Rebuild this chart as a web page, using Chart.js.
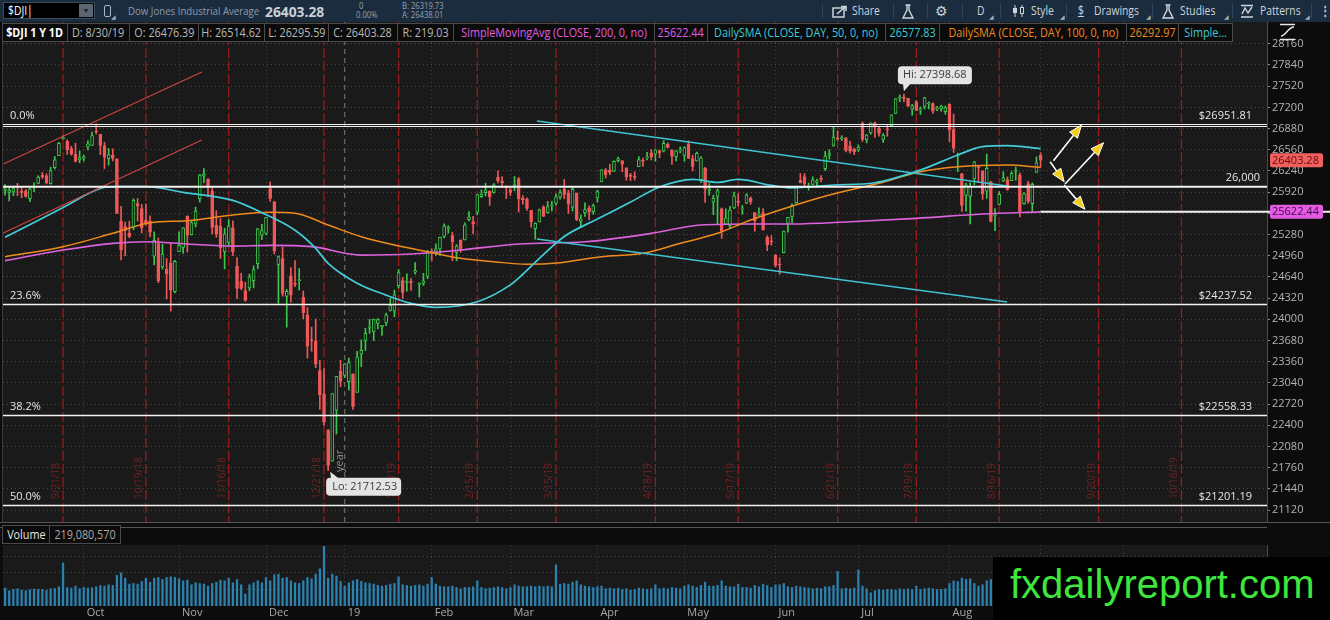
<!DOCTYPE html>
<html>
<head>
<meta charset="utf-8">
<title>$DJI 1 Y 1D</title>
<script src="https://cdn.jsdelivr.net/npm/chart.js@4.4.1/dist/chart.umd.min.js"></script>
<style>
  body { margin: 0; background: #000; }
  #page { position: relative; width: 1330px; height: 620px; overflow: hidden; background: #000; font-family: 'Open Sans', Roboto, sans-serif; }
  canvas { position: absolute; left: 0; }
  #toolbar { position: absolute; left: 0; top: 0; width: 1330px; height: 22px; background: #1b2c3e; color: #cdd5dc; font-size: 12px; z-index: 3; }
  .t { position: absolute; top: 0; height: 22px; line-height: 22px; white-space: nowrap; transform: scaleX(0.86); transform-origin: left center; }
  .tiny { position: absolute; font-size: 8.5px; line-height: 10px; color: #93a3b3; white-space: nowrap; transform: scaleX(0.9); transform-origin: left center; }
  .ico { position: absolute; top: 4px; }
  .sep { position: absolute; top: 4px; width: 1px; height: 14px; background: #30445a; }
  .corner { position: absolute; top: 13px; font-size: 6px; color: #9fb0c0; }
  #sym { position: absolute; left: 3px; top: 2px; width: 92px; height: 17px; background: #000; border: 1px solid #3b4d60; box-sizing: border-box; }
  #dd { position: absolute; right: 1px; top: 1px; width: 14px; height: 13px; background: #5b6670; color: #1b2430; font-size: 7px; line-height: 13px; text-align: center; }
  #legend { position: absolute; left: 2px; top: 23px; height: 19px; display: flex; z-index: 3; }
  #legend div { height: 19px; box-sizing: border-box; background: #0b0b0b; border: 1px solid #4a4a4a; border-left: none; display: flex; justify-content: center; align-items: center; overflow: visible; font-size: 12px; white-space: nowrap; }
  #legend div:first-child { border-left: 1px solid #4a4a4a; }
  #legend span { display: inline-block; transform: scaleX(0.9); }
  #volLegend { position: absolute; left: 2px; top: 525px; height: 19px; display: flex; z-index: 3; }
  #volLegend div { height: 19px; box-sizing: border-box; background: #0b0b0b; border: 1px solid #4a4a4a; display: flex; justify-content: center; align-items: center; font-size: 12px; white-space: nowrap; }
  #volLegend span { display: inline-block; transform: scaleX(0.9); }
  #mark { position: absolute; left: 993px; top: 557px; width: 337px; height: 63px; background: #000; z-index: 4; }
  #mark span { position: absolute; left: 17px; top: 4px; font-family: 'Liberation Sans', Arial, sans-serif; font-size: 40px; line-height: 46px; color: #3ee63e; white-space: nowrap; }
</style>
</head>
<body>
<div id="page">
  <div id="toolbar">
    <div id="sym"><span class="t" style="left:4px;top:-3px;color:#fff">$DJI<span style="color:#fff">|</span></span><div id="dd">&#9660;</div></div>
    <div style="position:absolute;left:104px;top:5px;width:5px;height:10px;border:1px solid #aab6c2;border-radius:2px"></div>
    <span class="corner" style="left:111px">&#9698;</span>
    <span class="t" style="left:128px;color:#8d9cab;font-size:11.5px;transform:scaleX(0.84)">Dow Jones Industrial Average</span>
    <span class="t" style="left:265px;font-weight:bold;font-size:15px;color:#c9d0d7;transform:scaleX(0.92)">26403.28</span>
    <span class="tiny" style="left:359px;top:1px">0</span>
    <span class="tiny" style="left:356px;top:10px">0.00%</span>
    <span class="tiny" style="left:402px;top:1px">B: 26319.73</span>
    <span class="tiny" style="left:402px;top:10px">A: 26438.01</span>

    <div class="sep" style="left:822px"></div>
    <svg class="ico" style="left:832px" width="17" height="14"><rect x="1" y="4" width="11" height="9" fill="none" stroke="#cdd5dc" stroke-width="1.5"/><path d="M5 10 L13 3 M9 2.5 H14 V7" fill="none" stroke="#cdd5dc" stroke-width="1.6"/></svg>
    <span class="t" style="left:852px">Share</span>
    <div class="sep" style="left:893px"></div>
    <svg class="ico" style="left:902px" width="12" height="15"><path d="M3.5 1 H8.5 M5 1 V6 L1 14 H11 L7 6 V1" fill="none" stroke="#cdd5dc" stroke-width="1.4"/></svg>
    <div class="sep" style="left:927px"></div>
    <span class="t" style="left:935px;font-family:'DejaVu Sans';font-size:14px;transform:none">&#9881;</span>
    <div class="sep" style="left:962px"></div>
    <span class="t" style="left:977px">D</span>
    <span class="corner" style="left:989px">&#9698;</span>
    <div class="sep" style="left:1000px"></div>
    <svg class="ico" style="left:1012px" width="14" height="14"><path d="M3 1 V13 M10 1 V13" stroke="#cdd5dc" stroke-width="1"/><rect x="1" y="4" width="4" height="5" fill="#cdd5dc"/><rect x="8.5" y="3.5" width="3" height="6" fill="#1b2c3e" stroke="#cdd5dc"/></svg>
    <span class="t" style="left:1031px">Style</span>
    <span class="corner" style="left:1060px">&#9698;</span>
    <div class="sep" style="left:1066px"></div>
    <span class="t" style="left:1078px;text-decoration:underline">$</span>
    <span class="t" style="left:1094px">Drawings</span>
    <span class="corner" style="left:1146px">&#9698;</span>
    <div class="sep" style="left:1152px"></div>
    <svg class="ico" style="left:1162px" width="12" height="15"><path d="M3.5 1 H8.5 M5 1 V6 L1 14 H11 L7 6 V1" fill="none" stroke="#cdd5dc" stroke-width="1.4"/></svg>
    <span class="t" style="left:1180px">Studies</span>
    <span class="corner" style="left:1224px">&#9698;</span>
    <div class="sep" style="left:1232px"></div>
    <svg class="ico" style="left:1240px" width="14" height="14"><path d="M1 1.5 H13 M1 13 H13 M2 10 L5 4 L8 9 L12 3" fill="none" stroke="#cdd5dc" stroke-width="1.4"/></svg>
    <span class="t" style="left:1260px">Patterns</span>
    <span class="corner" style="left:1305px">&#9698;</span>
    <div class="sep" style="left:1311px"></div>
    <span class="t" style="left:1320px;font-weight:bold">&#8942;</span>
  </div>

  <canvas id="price" width="1330" height="502" style="top:22px"></canvas>
  <canvas id="volume" width="1330" height="96" style="top:524px"></canvas>

  <div id="legend">
    <div style="width:66px;color:#fff;font-weight:bold"><span>$DJI 1 Y 1D</span></div>
    <div style="width:62px;color:#b9b9b9"><span>D: 8/30/19</span></div>
    <div style="width:69px;color:#b9b9b9"><span>O: 26476.39</span></div>
    <div style="width:66px;color:#b9b9b9"><span>H: 26514.62</span></div>
    <div style="width:64px;color:#b9b9b9"><span>L: 26295.59</span></div>
    <div style="width:69px;color:#b9b9b9"><span>C: 26403.28</span></div>
    <div style="width:56px;color:#b9b9b9"><span>R: 219.03</span></div>
    <div style="width:201px;color:#e05ee0"><span>SimpleMovingAvg (CLOSE, 200, 0, no)</span></div>
    <div style="width:53px;color:#e05ee0"><span>25622.44</span></div>
    <div style="width:178px;color:#3fcad8"><span>DailySMA (CLOSE, DAY, 50, 0, no)</span></div>
    <div style="width:54px;color:#3fcad8"><span>26577.83</span></div>
    <div style="width:187px;color:#ee8a1e"><span>DailySMA (CLOSE, DAY, 100, 0, no)</span></div>
    <div style="width:52px;color:#ee8a1e"><span>26292.97</span></div>
    <div style="width:54px;color:#3fcad8"><span>Simple...</span></div>
  </div>
  <svg style="position:absolute;left:1278px;top:23px;z-index:3" width="20" height="18"><path d="M2 1.5 H17 M2 16.5 H17 M3 13 C8 13 10 4 16 4" fill="none" stroke="#e8e8e8" stroke-width="1.4"/></svg>

  <div id="volLegend">
    <div style="width:48px;color:#e4e4e4"><span>Volume</span></div>
    <div style="width:71px;color:#a9a9a9;border-left:none"><span>219,080,570</span></div>
  </div>

  <div id="mark"><span>fxdailyreport.com</span></div>
</div>

<script>
// daily candles, Aug 31 2018 .. Aug 30 2019 (x = trading-day index)
const opens = [
  25946,25917,25924,25997,25927,25936,25822,25990,26052,26175,
  26168,26046,26290,26470,26723,26689,26579,26496,26408,26430,
  26598,26625,26834,26791,26618,26424,26479,26422,25484,25401,
  25300,25387,25747,25670,25493,25486,24953,25144,24792,24753,
  24845,24416,25022,25085,25556,25278,25441,25820,26162,26121,
  25933,25420,25409,25020,25161,25382,24803,24577,24434,24473,
  24584,24838,25269,25296,25975,25772,24822,24916,24345,24656,
  24534,24584,24330,24068,23684,23675,23225,22871,22318,21858,
  22629,23213,23153,23058,23177,22894,23474,23681,23865,23811,
  23939,23880,23944,24132,24125,24507,24585,24557,24557,24712,
  24527,24541,24646,25031,25025,25062,25253,25371,25265,25011,
  25191,25199,25504,25470,25616,25850,25911,25936,25916,26146,
  26082,25996,25956,26020,26122,25830,25812,25645,25368,25469,
  25697,25608,25710,25751,25844,25962,25904,25688,25907,25477,
  25605,25676,25625,25834,26076,26252,26249,26236,26396,26392,
  26286,26179,26161,26304,26397,26437,26510,26492,26547,26539,
  26640,26556,26450,26543,26475,26640,26426,26390,26108,26283,
  25945,25769,25854,25666,25437,25408,25680,25780,25667,25755,
  25826,25613,25573,25611,25237,25186,24975,24830,25004,25448,
  25545,25762,26097,26153,26005,26036,26065,26115,26275,26475,
  26624,26740,26728,26738,26620,26566,26553,26964,26714,26813,
  26968,26885,26716,26863,26923,27108,27340,27353,27338,27172,
  27283,27163,27214,27254,27258,27172,27178,27135,27251,26863,
  26470,26200,25872,25856,26121,26305,26241,25935,26080,25564,
  25733,26085,26108,26093,26234,26183,25745,26050,25744,26219,
  26476
];
const highs = [
  26035,25999,26000,26052,26008,25962,25986,26062,26168,26218,
  26196,26297,26458,26671,26770,26710,26613,26657,26540,26478,
  26700,26825,26952,26792,26672,26580,26573,26422,25704,25468,
  25481,25818,25825,25734,25738,25563,25319,25228,25133,24916,
  25153,24889,25319,25385,25564,25480,25694,26188,26277,26122,
  25985,25639,25521,25374,25505,25486,24932,24695,24560,24682,
  24807,25373,25434,25540,26072,25781,24956,25089,24452,24781,
  24888,24767,24428,24176,23880,24003,23382,23255,22339,22879,
  23139,23381,23334,23413,23177,23518,23688,23865,24001,24002,
  24010,23908,24092,24314,24440,24751,24632,24687,24616,24857,
  24554,24693,25042,25066,25140,25240,25440,25413,25315,25129,
  25201,25455,25625,25555,25883,25955,26052,25939,26049,26242,
  26155,26012,25983,26156,26144,25867,25835,25645,25455,25665,
  25715,25780,25782,25890,25953,26110,25946,26007,25908,25577,
  25760,25713,25741,25949,26259,26277,26339,26392,26451,26397,
  26286,26204,26226,26458,26436,26520,26566,26560,26553,26696,
  26665,26562,26547,26603,26603,26695,26479,26525,26455,26294,
  26050,25875,25967,25682,25668,25707,25919,25896,25719,25898,
  25848,25613,25682,25670,25260,25262,24975,24930,25332,25540,
  25744,26011,26201,26201,26058,26151,26117,26170,26535,26562,
  26907,26840,26772,26747,26687,26584,26635,26978,26793,26966,
  26977,26898,26806,26938,27088,27333,27388,27399,27338,27245,
  27303,27206,27350,27285,27269,27217,27233,27221,27254,27099,
  26510,26200,26057,26064,26386,26318,26241,26495,26080,25670,
  25929,26229,26150,26229,26298,26212,25913,26083,26059,26453,
  26515
];
const lows = [
  25876,25787,25867,25866,25834,25842,25775,25927,26046,26124,
  26045,26041,26269,26470,26720,26490,26479,26377,26362,26389,
  26558,26625,26797,26487,26276,26327,26392,25598,24896,24959,
  25231,25351,25482,25304,25420,25242,24823,24553,24757,24307,
  24122,24398,25022,24996,25017,25272,25393,25768,26064,25848,
  25289,25239,24919,24760,25096,24960,24314,24447,24272,24432,
  24474,24764,25201,25275,25780,24986,24243,24349,23881,24259,
  24493,24442,24008,23412,23518,23269,22640,22397,21713,21858,
  22268,22982,23119,22928,22639,22894,23287,23530,23788,23678,
  23853,23757,23902,24124,24037,24471,24312,24424,24436,24680,
  24337,24512,24612,24883,24964,24970,25230,25300,24884,24883,
  25012,25199,25485,25289,25575,25838,25863,25721,25904,26059,
  25986,25820,25869,25942,25622,25738,25644,25391,25209,25469,
  25554,25603,25636,25727,25813,25820,25597,25634,25491,25383,
  25553,25503,25585,25771,26076,26132,26181,26230,26377,26228,
  26101,26095,26101,26304,26307,26407,26405,26387,26440,26527,
  26589,26338,26390,26512,26389,26428,26241,26390,26064,25765,
  25873,25580,25443,25222,25427,25376,25670,25711,25585,25745,
  25735,25328,25561,25346,25035,25120,24790,24680,25004,25315,
  25460,25752,26058,25988,25950,26030,25998,26075,26244,26419,
  26612,26702,26698,26526,26510,26486,26533,26686,26663,26794,
  26745,26766,26669,26763,26919,27108,27286,27283,27212,27080,
  27148,27095,27176,27177,27110,27150,27141,27096,26685,26520,
  26230,25627,25631,25440,26032,26064,25811,25825,25470,25339,
  25733,26078,25947,26093,26100,25544,25735,25755,25611,26219,
  26296
];
const closes = [
  25965,25952,25975,25996,25917,25857,25971,25999,26146,26155,
  26062,26247,26406,26657,26744,26562,26492,26385,26440,26458,
  26651,26774,26828,26627,26447,26487,26431,25599,25053,25340,
  25251,25798,25707,25379,25444,25317,25191,24583,24985,24688,
  24443,24875,25116,25381,25271,25462,25635,26180,26191,25989,
  25387,25286,25081,25289,25413,25017,24466,24465,24286,24640,
  24749,25366,25339,25538,25826,25027,24948,24389,24423,24370,
  24527,24597,24101,23593,23676,23324,22860,22445,21792,22878,
  23139,23062,23327,23346,22686,23433,23531,23787,23879,24002,
  23996,23910,24066,24207,24370,24706,24404,24576,24553,24737,
  24528,24580,25015,25000,25064,25239,25412,25390,25170,25106,
  25053,25426,25543,25439,25883,25891,25954,25851,26032,26092,
  26058,25985,25916,26026,25820,25807,25673,25473,25450,25651,
  25555,25703,25710,25849,25914,25887,25746,25963,25502,25517,
  25658,25626,25717,25929,26258,26179,26218,26385,26425,26341,
  26151,26157,26143,26412,26385,26453,26450,26560,26511,26656,
  26597,26462,26543,26554,26593,26430,26308,26505,26438,25965,
  25967,25828,25942,25325,25532,25648,25863,25764,25680,25877,
  25777,25490,25586,25348,25126,25170,24815,24820,25332,25540,
  25721,25984,26063,26049,26005,26107,26090,26113,26466,26504,
  26753,26719,26728,26548,26537,26527,26600,26717,26787,26966,
  26922,26806,26783,26860,27088,27332,27359,27336,27220,27223,
  27154,27172,27349,27270,27141,27192,27221,27198,26864,26583,
  26485,25718,26030,26007,26378,26287,25896,26280,25479,25579,
  25886,26136,25962,26203,26252,25629,25899,25778,26036,26362,
  26403
];
// volume, millions
const volumes = [
  270,230,250,260,240,230,245,255,250,250,235,260,265,290,650,280,270,300,260,280,
  270,275,290,310,300,320,310,460,500,420,330,340,330,370,420,360,420,430,400,430,440,430,410,
  380,390,320,350,340,330,300,340,360,390,380,420,350,400,320,180,320,350,380,350,430,
  380,470,480,420,430,380,350,340,380,430,410,480,560,900,420,480,450,370,300,
  350,380,400,370,350,340,330,310,300,310,330,340,440,320,310,300,310,320,300,330,430,
  330,300,290,290,300,280,260,280,280,290,380,280,260,270,280,290,280,260,280,
  320,300,290,290,300,290,300,290,300,290,620,330,340,330,360,380,320,300,290,280,290,
  300,260,270,260,270,250,260,240,250,270,260,250,260,320,260,270,260,280,270,260,300,
  320,300,280,310,360,300,300,310,380,300,290,290,330,280,280,270,310,290,330,310,280,320,
  320,340,290,280,300,290,280,270,260,270,260,290,290,310,520,260,270,260,270,540,
  300,260,200,230,250,240,250,250,240,260,250,260,250,300,250,260,270,260,250,250,260,340,
  380,370,420,400,410,340,300,320,380,400,360,330,270,260,250,240,360,260,250,240,230,219
];

// moving averages: trading-day index / value
const sma50X = [0, 7, 14, 23, 27, 34, 43, 55, 62, 70, 75, 78, 85, 92, 98, 104, 114, 122, 125, 129, 135, 143, 151, 158, 166, 172, 177, 185, 190, 200, 210, 221, 230, 236, 242, 250];
const sma50Y = [25237, 25463, 25689, 25975, 26005, 26005, 25915, 25795, 25610, 25345, 25071, 24845, 24545, 24365, 24241, 24181, 24265, 24520, 24680, 24920, 25250, 25514, 25770, 25997, 26112, 26067, 26112, 26022, 25985, 26028, 26062, 26254, 26481, 26606, 26621, 26578];
const sma100X = [0, 14, 26, 35, 44, 55, 64, 70, 78, 86, 94, 102, 110, 118, 126, 134, 144, 154, 163, 172, 180, 188, 199, 211, 221, 230, 242, 250];
const sma100Y = [24945, 25096, 25298, 25458, 25489, 25575, 25615, 25600, 25424, 25247, 25122, 25020, 24920, 24870, 24830, 24855, 24945, 24996, 25147, 25298, 25499, 25670, 25877, 26053, 26229, 26304, 26330, 26293];
const sma200X = [0, 14, 26, 34, 44, 55, 64, 74, 86, 98, 110, 124, 140, 156, 168, 180, 190, 204, 220, 236, 250];
const sma200Y = [24885, 25046, 25147, 25171, 25137, 25106, 25115, 25096, 24970, 24986, 25046, 25137, 25171, 25298, 25424, 25439, 25439, 25473, 25525, 25590, 25622];

const monthIdx = [20, 43, 64, 83, 104, 123, 144, 165, 187, 207, 229, 251, 271];
const monthNames = ['Oct', 'Nov', 'Dec', '19', 'Feb', 'Mar', 'Apr', 'May', 'Jun', 'Jul', 'Aug', 'Sep', 'Oct'];
const expiryIdx = [14, 34, 54, 77, 95, 114, 133, 157, 177, 201, 220, 240, 264, 284];
const expiryNames = ['9/21/18', '10/19/18', '11/16/18', '12/21/18', '1/18/19', '2/15/19', '3/15/19', '4/18/19', '5/17/19', '6/21/19', '7/19/19', '8/16/19', '9/20/19', '10/18/19'];
const priceTicks = [21120, 21440, 21760, 22080, 22400, 22720, 23040, 23360, 23680, 24000, 24320, 24640, 24960, 25280, 25600, 25920, 26240, 26560, 26880, 27200, 27520, 27840, 28160];
const volumeTicks = [250, 500, 750];
const fibLevels = [26951.81, 24237.52, 22558.33, 21201.19];
const fibNames = ['0.0%', '23.6%', '38.2%', '50.0%'];
const roundLevel = 26000;
const lastClose = 26403.28;
const lastSma200 = 25622.44;
const hiPoint = [217, 27398.68];
const loPoint = [78, 21712.53];
const yearIdx = 82;

// drawings: [x1, y1, x2, y2] in index / price
const channelLines = [[-0.43, 26345, 47.5, 27734], [-0.43, 25303, 47.5, 26707]];
const trendLines = [[128.4, 26994, 241.9, 26012], [128.4, 25212, 241.9, 24261]];
const arrows = [[253.1, 26394, 259.9, 26934], [252.3, 26379, 255.7, 26077], [255.9, 26043, 265.2, 26666], [255.7, 26028, 260.7, 25661]];

const X_MIN = -0.5, X_MAX = 304.66;
const P_MIN = 20939, P_MAX = 28489;
const F = "'Open Sans', Roboto, sans-serif";
const UP = '#3cc84b', DOWN = '#ee5959', PLOT_BG = '#1a1a1a', AXIS_BG = '#0c0c0c', GRID = '#474747';

function pts(xs, ys) { return xs.map((v, i) => ({ x: v, y: ys[i] })); }
function isUp(i) { return i !== undefined && closes[i] >= opens[i]; }
function seg(ctx, x1, y1, x2, y2) { ctx.beginPath(); ctx.moveTo(x1, y1); ctx.lineTo(x2, y2); ctx.stroke(); }
function noPad(ax) { ax.paddingTop = 0; ax.paddingBottom = 0; ax.paddingLeft = 0; ax.paddingRight = 0; }

const paneBg = {
  id: 'paneBg',
  beforeDraw(chart) {
    const { ctx, chartArea: a, width, height } = chart;
    ctx.save();
    ctx.fillStyle = AXIS_BG;
    ctx.fillRect(0, 0, width, height);
    ctx.fillStyle = PLOT_BG;
    ctx.fillRect(a.left, a.top, a.right - a.left, a.bottom - a.top);
    ctx.restore();
  }
};

const drawings = {
  id: 'drawings',
  beforeDatasetsDraw(chart) {
    const { ctx, chartArea: a, scales: { x } } = chart;
    ctx.save();
    ctx.strokeStyle = '#3a3a3a';
    ctx.lineWidth = 1;
    seg(ctx, a.left - 0.5, a.top, a.left - 0.5, a.bottom);

    // year separator
    const yx = x.getPixelForValue(yearIdx);
    ctx.strokeStyle = '#7c7c7c';
    ctx.setLineDash([5, 4]);
    seg(ctx, yx, a.top, yx, a.bottom);
    ctx.setLineDash([]);
    ctx.fillStyle = '#8c8c8c';
    ctx.font = '11px ' + F;
    ctx.save();
    ctx.translate(yx - 2, a.bottom - 50);
    ctx.rotate(-Math.PI / 2);
    ctx.fillText('year', 0, 0);
    ctx.restore();

    // option expiration lines
    ctx.strokeStyle = '#951c1c';
    ctx.lineWidth = 1.3;
    ctx.setLineDash([10, 3]);
    expiryIdx.forEach(v => {
      const p = x.getPixelForValue(v);
      seg(ctx, p, a.top, p, a.bottom);
    });
    ctx.setLineDash([]);
    ctx.fillStyle = '#742222';
    ctx.font = '10px ' + F;
    expiryIdx.forEach((v, i) => {
      const p = x.getPixelForValue(v);
      ctx.save();
      ctx.translate(p - 4, a.bottom - 23);
      ctx.rotate(-Math.PI / 2);
      ctx.fillText(expiryNames[i], 0, 0);
      ctx.restore();
    });
    ctx.restore();
  },
  afterDatasetsDraw(chart) {
    const { ctx, chartArea: a, scales: { x, y } } = chart;
    const px = v => x.getPixelForValue(v), py = v => y.getPixelForValue(v);
    ctx.save();
    ctx.beginPath();
    ctx.rect(a.left, a.top, a.right - a.left, a.bottom - a.top);
    ctx.clip();

    // red channel
    ctx.strokeStyle = '#cf4343';
    ctx.lineWidth = 1.2;
    channelLines.forEach(l => seg(ctx, px(l[0]), py(l[1]), px(l[2]), py(l[3])));
    // cyan trend lines
    ctx.strokeStyle = '#3ec3d2';
    ctx.lineWidth = 1.5;
    trendLines.forEach(l => seg(ctx, px(l[0]), py(l[1]), px(l[2]), py(l[3])));

    // fib levels
    ctx.strokeStyle = '#f2f2f2';
    fibLevels.forEach((v, i) => {
      const yy = Math.round(py(v)) + 0.5;
      ctx.lineWidth = i === 0 ? 1 : 1.4;
      seg(ctx, a.left, yy, a.right, yy);
      if (i === 0) seg(ctx, a.left, yy + 2, a.right, yy + 2);
    });
    // round number
    ctx.lineWidth = 2;
    const ry = py(roundLevel);
    seg(ctx, a.left, ry, a.right, ry);

    ctx.fillStyle = '#e6e6e6';
    ctx.font = '11px ' + F;
    fibLevels.forEach((v, i) => {
      const yy = py(v) - 5;
      ctx.textAlign = 'left';
      ctx.fillText(fibNames[i], a.left + 7, yy);
      ctx.textAlign = 'right';
      ctx.fillText('$' + v.toFixed(2), a.right - 15, yy);
    });
    ctx.textAlign = 'right';
    ctx.fillText('26,000', a.right - 7, ry - 6);

    // arrows
    arrows.forEach(l => {
      const x1 = px(l[0]), y1 = py(l[1]), x2 = px(l[2]), y2 = py(l[3]);
      const ang = Math.atan2(y2 - y1, x2 - x1), L = 13, W = 5;
      const bx = x2 - L * Math.cos(ang), by = y2 - L * Math.sin(ang);
      ctx.strokeStyle = '#ffffff';
      ctx.lineWidth = 1.6;
      seg(ctx, x1, y1, bx, by);
      ctx.beginPath();
      ctx.moveTo(x2, y2);
      ctx.lineTo(bx + W * Math.sin(ang), by - W * Math.cos(ang));
      ctx.lineTo(bx - W * Math.sin(ang), by + W * Math.cos(ang));
      ctx.closePath();
      ctx.fillStyle = '#f2cd16';
      ctx.fill();
      ctx.lineWidth = 1;
      ctx.stroke();
    });

    // hi / lo callouts
    ctx.font = '11px ' + F;
    ctx.textAlign = 'left';
    ctx.textBaseline = 'middle';
    const hx = px(hiPoint[0]), hy = py(hiPoint[1]);
    ctx.fillStyle = '#e4e4e4';
    ctx.beginPath(); ctx.roundRect(hx - 6, hy - 28, 74, 18, 4); ctx.fill();
    ctx.beginPath(); ctx.moveTo(hx - 1, hy - 11); ctx.lineTo(hx + 7, hy - 11); ctx.lineTo(hx, hy - 3); ctx.fill();
    ctx.fillStyle = '#3a3a3a';
    ctx.fillText('Hi: ' + hiPoint[1].toFixed(2), hx - 1, hy - 19);
    const lx = px(loPoint[0]), ly = py(loPoint[1]);
    ctx.fillStyle = '#e4e4e4';
    ctx.beginPath(); ctx.roundRect(lx - 2, ly + 7, 75, 18, 4); ctx.fill();
    ctx.beginPath(); ctx.moveTo(lx + 3, ly + 8); ctx.lineTo(lx + 11, ly + 8); ctx.lineTo(lx + 2, ly + 1); ctx.fill();
    ctx.fillStyle = '#3a3a3a';
    ctx.fillText('Lo: ' + loPoint[1].toFixed(2), lx + 4, ly + 16.5);
    ctx.restore();
  },
  afterDraw(chart) {
    const { ctx, chartArea: a, scales: { x, y }, width } = chart;
    ctx.save();
    ctx.strokeStyle = '#555';
    ctx.lineWidth = 1;
    seg(ctx, 0, a.bottom + 0.5, width, a.bottom + 0.5);
    // horizontal line at the 200-day average, from the last bar to the edge
    const sy = y.getPixelForValue(lastSma200);
    ctx.strokeStyle = '#f2f2f2';
    ctx.lineWidth = 2;
    seg(ctx, x.getPixelForValue(closes.length - 1), sy, width, sy);
    // price bubbles on the axis
    ctx.font = '11px ' + F;
    ctx.textBaseline = 'middle';
    ctx.textAlign = 'left';
    const boxes = [[lastClose, '#f0605f', '#6a0a0a'], [lastSma200, '#e25ce2', '#4c064c']];
    boxes.forEach(b => {
      const by = y.getPixelForValue(b[0]);
      ctx.fillStyle = b[1];
      ctx.beginPath(); ctx.roundRect(a.right + 3, by - 7, 53, 14, 2); ctx.fill();
      ctx.fillStyle = b[2];
      ctx.fillText(b[0].toFixed(2), a.right + 5, by + 0.5);
    });
    ctx.restore();
  }
};

new Chart(document.getElementById('price'), {
  type: 'bar',
  data: {
    datasets: [
      { type: 'line', data: pts(sma50X, sma50Y), borderColor: '#43ccda', borderWidth: 1.7, pointRadius: 0, cubicInterpolationMode: 'monotone', order: 0 },
      { type: 'line', data: pts(sma100X, sma100Y), borderColor: '#ef8b1d', borderWidth: 1.5, pointRadius: 0, cubicInterpolationMode: 'monotone', order: 0 },
      { type: 'line', data: pts(sma200X, sma200Y), borderColor: '#dd62dd', borderWidth: 1.7, pointRadius: 0, cubicInterpolationMode: 'monotone', order: 0 },
      {
        data: closes.map((c, i) => ({ x: i, y: [opens[i], c] })),
        backgroundColor: c => isUp(c.dataIndex) ? PLOT_BG : DOWN,
        borderColor: c => isUp(c.dataIndex) ? UP : DOWN,
        borderWidth: 1, borderSkipped: false, barThickness: 3, minBarLength: 1, grouped: false, order: 1
      },
      {
        data: lows.map((l, i) => ({ x: i, y: [l, highs[i]] })),
        backgroundColor: c => isUp(c.dataIndex) ? UP : DOWN,
        barThickness: 1, grouped: false, order: 2
      }
    ]
  },
  options: {
    responsive: false, animation: false, events: [],
    layout: { padding: { left: 3, right: 0, top: 0, bottom: 2 } },
    plugins: { legend: { display: false }, tooltip: { enabled: false } },
    scales: {
      x: {
        type: 'linear', min: X_MIN, max: X_MAX, offset: false, bounds: 'data',
        afterBuildTicks: ax => { ax.ticks = monthIdx.map(v => ({ value: v - 1 })); },
        afterFit: ax => { ax.height = 0; noPad(ax); },
        ticks: { display: false },
        grid: { offset: false, drawTicks: false, color: c => (c.tick && c.tick.value === yearIdx) ? 'rgba(0,0,0,0)' : GRID },
        border: { display: false, dash: [1, 3] }
      },
      y: {
        type: 'linear', position: 'right', min: P_MIN, max: P_MAX, bounds: 'data', beginAtZero: false,
        afterBuildTicks: ax => { ax.ticks = priceTicks.map(v => ({ value: v })); },
        afterFit: ax => { ax.width = 63; noPad(ax); },
        ticks: { color: '#b4b4b4', font: { family: F, size: 11 }, padding: 2, autoSkip: false, callback: v => String(v) },
        grid: { color: GRID, tickColor: '#8a8a8a', tickLength: 3 },
        border: { display: true, color: '#4c4c4c', dash: [1, 3] }
      }
    }
  },
  plugins: [paneBg, drawings]
});

const volumePane = {
  id: 'volumePane',
  afterDraw(chart) {
    const { ctx, chartArea: a } = chart;
    ctx.save();
    ctx.strokeStyle = '#555';
    ctx.lineWidth = 1;
    seg(ctx, 0, 3.5, a.right, 3.5);
    ctx.restore();
  }
};

new Chart(document.getElementById('volume'), {
  type: 'bar',
  data: {
    datasets: [{
      data: volumes.map((v, i) => ({ x: i, y: v })),
      backgroundColor: '#2b82b0', barThickness: 1.6, grouped: false
    }]
  },
  options: {
    responsive: false, animation: false, events: [],
    layout: { padding: { left: 3, right: 0, top: 21, bottom: 0 } },
    plugins: { legend: { display: false }, tooltip: { enabled: false } },
    scales: {
      x: {
        type: 'linear', min: X_MIN, max: X_MAX, offset: false, bounds: 'data',
        afterBuildTicks: ax => { ax.ticks = monthIdx.map(v => ({ value: v - 1 })); },
        afterFit: ax => { ax.height = 14; noPad(ax); },
        ticks: { color: '#a9a9a9', font: { family: F, size: 11 }, align: 'start', labelOffset: 3, padding: 0, maxRotation: 0, autoSkip: false, callback: (v, i) => monthNames[i] },
        grid: { offset: false, drawTicks: false, color: GRID },
        border: { display: false, dash: [1, 3] }
      },
      y: {
        type: 'linear', position: 'right', min: 0, max: 920, bounds: 'data',
        afterBuildTicks: ax => { ax.ticks = volumeTicks.map(v => ({ value: v })); },
        afterFit: ax => { ax.width = 63; noPad(ax); },
        ticks: { display: false },
        grid: { color: GRID, drawTicks: false },
        border: { display: true, color: '#4c4c4c', dash: [1, 3] }
      }
    }
  },
  plugins: [paneBg, volumePane]
});
</script>
</body>
</html>
